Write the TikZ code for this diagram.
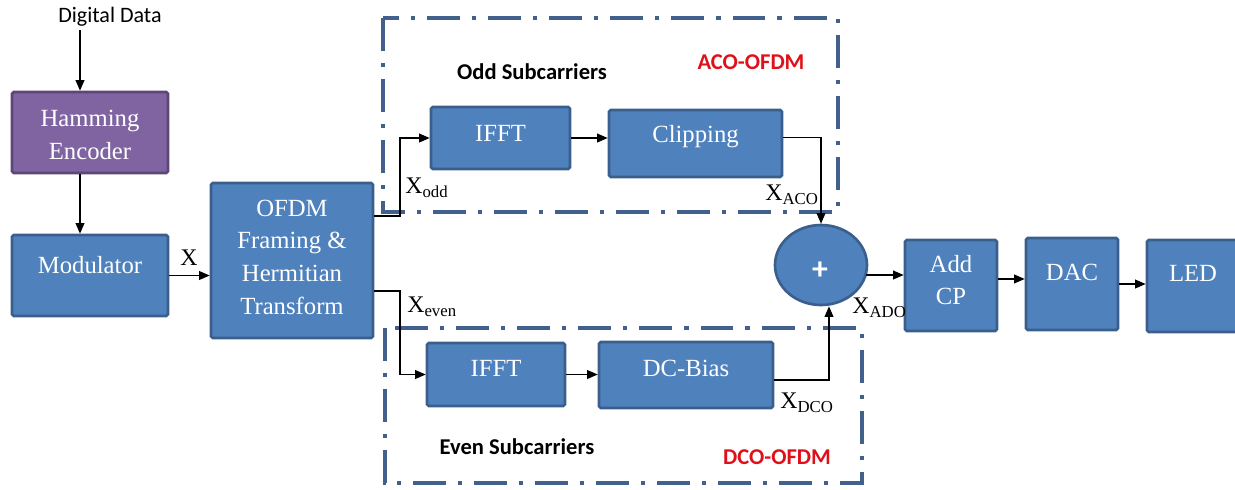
\documentclass[tikz,border=0pt]{standalone}
\usepackage{fontspec}
\setmainfont{Liberation Serif}
\newfontfamily\calib{Carlito}
\usetikzlibrary{arrows.meta,shapes.geometric}
\definecolor{boxblue}{HTML}{4F81BD}
\definecolor{boxedge}{HTML}{3A5F8C}
\definecolor{hampurple}{HTML}{8064A2}
\definecolor{hamedge}{HTML}{5C4776}
\definecolor{framec}{RGB}{65,97,140}
\definecolor{redlbl}{HTML}{E0101A}
\def\pxu{0.5669pt}
\tikzset{
 sz/.style 2 args={minimum width=#1*\pxu, minimum height=#2*\pxu},
 blk/.style={draw=boxedge, fill=boxblue, line width=1.5pt, rounded corners=1pt, inner sep=0pt},
 blktext/.style={text=white, font=\fontsize{14}{18.5}\selectfont, align=center, inner sep=0pt},
 arr/.style={line width=0.7pt, -{Triangle[length=6pt,width=5pt]}},
 frame/.style={draw=framec, line width=2.4pt, dash pattern=on 18.7pt off 6.8pt on 2.3pt off 6.8pt},
 sig/.style={font=\fontsize{13.5}{14}\selectfont, inner sep=0pt, anchor=base west},
 captxt/.style={font=\calib\bfseries\fontsize{12.8}{14}\selectfont, inner sep=0pt},
}
\newcommand\Xsub[1]{X\raisebox{-2.5pt}{\fontsize{9.5}{10}\selectfont #1}}
\begin{document}
\begin{tikzpicture}[x=0.5669pt,y=-0.5669pt]
\useasboundingbox (0,0) rectangle (1235,489);
\clip (0,0) rectangle (1235,489);
% frames
\draw[frame] (383,18) rectangle (838,212);
\draw[frame] (385,328) rectangle (862,483);
% captions
\node[captxt] (oddc) at (532,72) {Odd Subcarriers};
\node[captxt, text=redlbl] (acoc) at (751,62) {ACO-OFDM};
\node[captxt] (evenc) at (517,447) {Even Subcarriers};
\node[captxt, text=redlbl] (dcoc) at (777,457) {DCO-OFDM};
\node[font=\calib\fontsize{12.5}{14}\selectfont, inner sep=0pt] (dd) at (110,17) {Digital Data};
% blocks
\node[blk, draw=hamedge, fill=hampurple, sz={156}{81}] (ham) at (90,132.5) {};
\node[blk, sz={156}{81}] (mod) at (90,275.5) {};
\node[blk, sz={162}{155}] (ofdm) at (292,260.5) {};
\node[blk, sz={139}{62}] (ifft1) at (500.5,138) {};
\node[blk, sz={173}{67}] (clip) at (695.5,143.5) {};
\node[blk, sz={138}{63}] (ifft2) at (496,374.5) {};
\node[blk, sz={174}{66}] (dcb) at (686,375) {};
\node[ellipse, draw=boxedge, fill=boxblue, line width=1.5pt, inner sep=0pt, sz={92}{80}] (sum) at (821,265) {};
\node[blk, sz={92}{91}] (addcp) at (951,285.5) {};
\node[blk, sz={92}{92}] (dac) at (1072,284) {};
\node[blk, sz={92}{92}] (led) at (1193,286) {};
% block texts
\node[blktext] (hamT) at (90,135) {Hamming\\Encoder};
\node[blktext] (modT) at (90,265) {Modulator};
\node[blktext] (ofdmT) at (292,257) {OFDM\\Framing \&\\Hermitian\\Transform};
\node[blktext] (ifft1T) at (500.5,133) {IFFT};
\node[blktext] (clipT) at (695.5,137) {Clipping};
\node[blktext] (ifft2T) at (496,368) {IFFT};
\node[blktext] (dcbT) at (686,368) {DC-Bias};
\node[text=white, font=\calib\bfseries\fontsize{18}{18}\selectfont, inner sep=0pt] (plus) at (820,271) {+};
\node[blktext] (addT) at (951,280) {Add\\CP};
\node[blktext] (dacT) at (1072,272) {DAC};
\node[blktext] (ledT) at (1193,273) {LED};
% signal labels
\node[sig] (xl) at (180,265) {X};
\node[sig] (xodd) at (405,193) {\Xsub{odd}};
\node[sig] (xaco) at (765,200) {\Xsub{ACO}};
\node[sig] (xeven) at (407,312) {\Xsub{even}};
\node[sig] (xdco) at (780,408) {\Xsub{DCO}};
\node[sig] (xado) at (852,313) {\Xsub{ADO}};
% connectors
\coordinate (ddin) at (80,30);
\coordinate (sp1) at (400,216);
\coordinate (sp2) at (400,291);
\coordinate (dc) at (829,380);
\coordinate (sa) at (866,275);
\draw[arr] (ddin) -- (ddin |- ham.north);
\draw[arr] (ham.south -| ddin) -- (mod.north -| ddin);
\draw[arr] (mod.east) -- (mod.east -| ofdm.west);
\draw[arr] (sp1 -| ofdm.east) -- (sp1) |- (ifft1.west);
\draw[arr] (ifft1.east) -- (ifft1.east -| clip.west);
\draw[arr] ([yshift=3.4pt]clip.east) -| (sum.north);
\draw[arr] (sp2 -| ofdm.east) -- (sp2) |- (ifft2.west);
\draw[arr] (ifft2.east) -- (ifft2.east -| dcb.west);
\draw[arr] (dc -| dcb.east) -- (dc) -- (dc |- sum.south);
\draw[arr] (sa) -- (sa -| addcp.west);
\draw[arr] ([yshift=3.7pt]addcp.east) -- ([yshift=3.7pt]addcp.east -| dac.west);
\draw[arr] (dac.east) -- (dac.east -| led.west);
\end{tikzpicture}
\end{document}
